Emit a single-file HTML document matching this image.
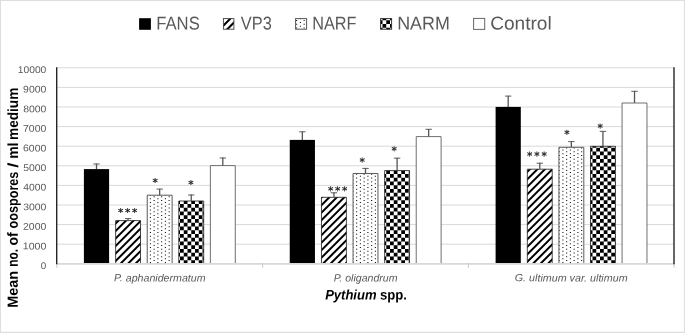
<!DOCTYPE html>
<html><head><meta charset="utf-8"><title>Chart</title><style>html,body{margin:0;padding:0;background:#fff}</style></head><body>
<svg width="685" height="333" viewBox="0 0 685 333" text-rendering="geometricPrecision" style="display:block;font-family:'Liberation Sans',sans-serif">
<rect x="0" y="0" width="685" height="333" fill="#fff"/>
<path d="M0,0H685V333H0Z M1,1V331.7H683.9V1Z" fill="#dedede" fill-rule="evenodd"/>
<line x1="56.7" x2="674.0" y1="244.20" y2="244.20" stroke="#d9d9d9" stroke-width="1"/>
<line x1="56.7" x2="674.0" y1="224.60" y2="224.60" stroke="#d9d9d9" stroke-width="1"/>
<line x1="56.7" x2="674.0" y1="205.00" y2="205.00" stroke="#d9d9d9" stroke-width="1"/>
<line x1="56.7" x2="674.0" y1="185.40" y2="185.40" stroke="#d9d9d9" stroke-width="1"/>
<line x1="56.7" x2="674.0" y1="165.80" y2="165.80" stroke="#d9d9d9" stroke-width="1"/>
<line x1="56.7" x2="674.0" y1="146.20" y2="146.20" stroke="#d9d9d9" stroke-width="1"/>
<line x1="56.7" x2="674.0" y1="126.60" y2="126.60" stroke="#d9d9d9" stroke-width="1"/>
<line x1="56.7" x2="674.0" y1="107.00" y2="107.00" stroke="#d9d9d9" stroke-width="1"/>
<line x1="56.7" x2="674.0" y1="87.40" y2="87.40" stroke="#d9d9d9" stroke-width="1"/>
<line x1="56.7" x2="674.0" y1="67.80" y2="67.80" stroke="#d9d9d9" stroke-width="1"/>
<rect x="83.90" y="169.10" width="25.20" height="94.70" fill="#000"/>
<path d="M96.50,169.10 V163.60" stroke="#555" stroke-width="1.3" fill="none"/><path d="M93.30,164.00 H99.70" stroke="#555" stroke-width="0.95" fill="none"/>
<rect x="115.63" y="220.60" width="24.90" height="43.20" fill="#fff"/>
<clipPath id="c1"><rect x="115.63" y="220.60" width="24.90" height="43.20"/></clipPath>
<path clip-path="url(#c1)" d="M113.63,210.52L142.53,181.62M113.63,218.02L142.53,189.12M113.63,225.52L142.53,196.62M113.63,233.02L142.53,204.12M113.63,240.52L142.53,211.62M113.63,248.02L142.53,219.12M113.63,255.52L142.53,226.62M113.63,263.02L142.53,234.12M113.63,270.52L142.53,241.62M113.63,278.02L142.53,249.12M113.63,285.52L142.53,256.62M113.63,293.02L142.53,264.12M113.63,300.52L142.53,271.62" stroke="#000" stroke-width="2.0" fill="none"/>
<path d="M115.63,263.80V220.60H140.53V263.80" fill="none" stroke="#1a1a1a" stroke-width="0.8" stroke-linejoin="miter"/>
<path d="M128.08,220.60 V218.20" stroke="#555" stroke-width="1.3" fill="none"/><path d="M124.88,218.60 H131.28" stroke="#555" stroke-width="0.95" fill="none"/>
<rect x="147.21" y="195.20" width="24.90" height="68.60" fill="#fff"/>
<clipPath id="c2"><rect x="147.21" y="195.20" width="24.90" height="68.60"/></clipPath>
<path clip-path="url(#c2)" d="M146.10,196.27h1.1v1.1h-1.1zM146.10,200.02h1.1v1.1h-1.1zM146.10,203.77h1.1v1.1h-1.1zM146.10,207.52h1.1v1.1h-1.1zM146.10,211.27h1.1v1.1h-1.1zM146.10,215.02h1.1v1.1h-1.1zM146.10,218.77h1.1v1.1h-1.1zM146.10,222.52h1.1v1.1h-1.1zM146.10,226.27h1.1v1.1h-1.1zM146.10,230.02h1.1v1.1h-1.1zM146.10,233.77h1.1v1.1h-1.1zM146.10,237.52h1.1v1.1h-1.1zM146.10,241.27h1.1v1.1h-1.1zM146.10,245.02h1.1v1.1h-1.1zM146.10,248.77h1.1v1.1h-1.1zM146.10,252.52h1.1v1.1h-1.1zM146.10,256.27h1.1v1.1h-1.1zM146.10,260.02h1.1v1.1h-1.1zM146.10,263.77h1.1v1.1h-1.1zM149.85,194.40h1.1v1.1h-1.1zM149.85,198.15h1.1v1.1h-1.1zM149.85,201.90h1.1v1.1h-1.1zM149.85,205.65h1.1v1.1h-1.1zM149.85,209.40h1.1v1.1h-1.1zM149.85,213.15h1.1v1.1h-1.1zM149.85,216.90h1.1v1.1h-1.1zM149.85,220.65h1.1v1.1h-1.1zM149.85,224.40h1.1v1.1h-1.1zM149.85,228.15h1.1v1.1h-1.1zM149.85,231.90h1.1v1.1h-1.1zM149.85,235.65h1.1v1.1h-1.1zM149.85,239.40h1.1v1.1h-1.1zM149.85,243.15h1.1v1.1h-1.1zM149.85,246.90h1.1v1.1h-1.1zM149.85,250.65h1.1v1.1h-1.1zM149.85,254.40h1.1v1.1h-1.1zM149.85,258.15h1.1v1.1h-1.1zM149.85,261.90h1.1v1.1h-1.1zM153.60,196.27h1.1v1.1h-1.1zM153.60,200.02h1.1v1.1h-1.1zM153.60,203.77h1.1v1.1h-1.1zM153.60,207.52h1.1v1.1h-1.1zM153.60,211.27h1.1v1.1h-1.1zM153.60,215.02h1.1v1.1h-1.1zM153.60,218.77h1.1v1.1h-1.1zM153.60,222.52h1.1v1.1h-1.1zM153.60,226.27h1.1v1.1h-1.1zM153.60,230.02h1.1v1.1h-1.1zM153.60,233.77h1.1v1.1h-1.1zM153.60,237.52h1.1v1.1h-1.1zM153.60,241.27h1.1v1.1h-1.1zM153.60,245.02h1.1v1.1h-1.1zM153.60,248.77h1.1v1.1h-1.1zM153.60,252.52h1.1v1.1h-1.1zM153.60,256.27h1.1v1.1h-1.1zM153.60,260.02h1.1v1.1h-1.1zM153.60,263.77h1.1v1.1h-1.1zM157.35,194.40h1.1v1.1h-1.1zM157.35,198.15h1.1v1.1h-1.1zM157.35,201.90h1.1v1.1h-1.1zM157.35,205.65h1.1v1.1h-1.1zM157.35,209.40h1.1v1.1h-1.1zM157.35,213.15h1.1v1.1h-1.1zM157.35,216.90h1.1v1.1h-1.1zM157.35,220.65h1.1v1.1h-1.1zM157.35,224.40h1.1v1.1h-1.1zM157.35,228.15h1.1v1.1h-1.1zM157.35,231.90h1.1v1.1h-1.1zM157.35,235.65h1.1v1.1h-1.1zM157.35,239.40h1.1v1.1h-1.1zM157.35,243.15h1.1v1.1h-1.1zM157.35,246.90h1.1v1.1h-1.1zM157.35,250.65h1.1v1.1h-1.1zM157.35,254.40h1.1v1.1h-1.1zM157.35,258.15h1.1v1.1h-1.1zM157.35,261.90h1.1v1.1h-1.1zM161.10,196.27h1.1v1.1h-1.1zM161.10,200.02h1.1v1.1h-1.1zM161.10,203.77h1.1v1.1h-1.1zM161.10,207.52h1.1v1.1h-1.1zM161.10,211.27h1.1v1.1h-1.1zM161.10,215.02h1.1v1.1h-1.1zM161.10,218.77h1.1v1.1h-1.1zM161.10,222.52h1.1v1.1h-1.1zM161.10,226.27h1.1v1.1h-1.1zM161.10,230.02h1.1v1.1h-1.1zM161.10,233.77h1.1v1.1h-1.1zM161.10,237.52h1.1v1.1h-1.1zM161.10,241.27h1.1v1.1h-1.1zM161.10,245.02h1.1v1.1h-1.1zM161.10,248.77h1.1v1.1h-1.1zM161.10,252.52h1.1v1.1h-1.1zM161.10,256.27h1.1v1.1h-1.1zM161.10,260.02h1.1v1.1h-1.1zM161.10,263.77h1.1v1.1h-1.1zM164.85,194.40h1.1v1.1h-1.1zM164.85,198.15h1.1v1.1h-1.1zM164.85,201.90h1.1v1.1h-1.1zM164.85,205.65h1.1v1.1h-1.1zM164.85,209.40h1.1v1.1h-1.1zM164.85,213.15h1.1v1.1h-1.1zM164.85,216.90h1.1v1.1h-1.1zM164.85,220.65h1.1v1.1h-1.1zM164.85,224.40h1.1v1.1h-1.1zM164.85,228.15h1.1v1.1h-1.1zM164.85,231.90h1.1v1.1h-1.1zM164.85,235.65h1.1v1.1h-1.1zM164.85,239.40h1.1v1.1h-1.1zM164.85,243.15h1.1v1.1h-1.1zM164.85,246.90h1.1v1.1h-1.1zM164.85,250.65h1.1v1.1h-1.1zM164.85,254.40h1.1v1.1h-1.1zM164.85,258.15h1.1v1.1h-1.1zM164.85,261.90h1.1v1.1h-1.1zM168.60,196.27h1.1v1.1h-1.1zM168.60,200.02h1.1v1.1h-1.1zM168.60,203.77h1.1v1.1h-1.1zM168.60,207.52h1.1v1.1h-1.1zM168.60,211.27h1.1v1.1h-1.1zM168.60,215.02h1.1v1.1h-1.1zM168.60,218.77h1.1v1.1h-1.1zM168.60,222.52h1.1v1.1h-1.1zM168.60,226.27h1.1v1.1h-1.1zM168.60,230.02h1.1v1.1h-1.1zM168.60,233.77h1.1v1.1h-1.1zM168.60,237.52h1.1v1.1h-1.1zM168.60,241.27h1.1v1.1h-1.1zM168.60,245.02h1.1v1.1h-1.1zM168.60,248.77h1.1v1.1h-1.1zM168.60,252.52h1.1v1.1h-1.1zM168.60,256.27h1.1v1.1h-1.1zM168.60,260.02h1.1v1.1h-1.1zM168.60,263.77h1.1v1.1h-1.1zM172.35,194.40h1.1v1.1h-1.1zM172.35,198.15h1.1v1.1h-1.1zM172.35,201.90h1.1v1.1h-1.1zM172.35,205.65h1.1v1.1h-1.1zM172.35,209.40h1.1v1.1h-1.1zM172.35,213.15h1.1v1.1h-1.1zM172.35,216.90h1.1v1.1h-1.1zM172.35,220.65h1.1v1.1h-1.1zM172.35,224.40h1.1v1.1h-1.1zM172.35,228.15h1.1v1.1h-1.1zM172.35,231.90h1.1v1.1h-1.1zM172.35,235.65h1.1v1.1h-1.1zM172.35,239.40h1.1v1.1h-1.1zM172.35,243.15h1.1v1.1h-1.1zM172.35,246.90h1.1v1.1h-1.1zM172.35,250.65h1.1v1.1h-1.1zM172.35,254.40h1.1v1.1h-1.1zM172.35,258.15h1.1v1.1h-1.1zM172.35,261.90h1.1v1.1h-1.1z" fill="#111"/>
<path d="M147.21,263.80V195.20H172.11V263.80" fill="none" stroke="#4a4a4a" stroke-width="0.9" stroke-linejoin="miter"/>
<path d="M159.66,195.20 V188.70" stroke="#555" stroke-width="1.3" fill="none"/><path d="M156.46,189.10 H162.86" stroke="#555" stroke-width="0.95" fill="none"/>
<rect x="178.79" y="201.00" width="24.90" height="62.80" fill="#fff"/>
<clipPath id="c3"><rect x="178.79" y="201.00" width="24.90" height="62.80"/></clipPath>
<path clip-path="url(#c3)" d="M172.50,196.40h3.75v3.75h-3.75zM172.50,203.90h3.75v3.75h-3.75zM172.50,211.40h3.75v3.75h-3.75zM172.50,218.90h3.75v3.75h-3.75zM172.50,226.40h3.75v3.75h-3.75zM172.50,233.90h3.75v3.75h-3.75zM172.50,241.40h3.75v3.75h-3.75zM172.50,248.90h3.75v3.75h-3.75zM172.50,256.40h3.75v3.75h-3.75zM172.50,263.90h3.75v3.75h-3.75zM176.25,200.15h3.75v3.75h-3.75zM176.25,207.65h3.75v3.75h-3.75zM176.25,215.15h3.75v3.75h-3.75zM176.25,222.65h3.75v3.75h-3.75zM176.25,230.15h3.75v3.75h-3.75zM176.25,237.65h3.75v3.75h-3.75zM176.25,245.15h3.75v3.75h-3.75zM176.25,252.65h3.75v3.75h-3.75zM176.25,260.15h3.75v3.75h-3.75zM176.25,267.65h3.75v3.75h-3.75zM180.00,196.40h3.75v3.75h-3.75zM180.00,203.90h3.75v3.75h-3.75zM180.00,211.40h3.75v3.75h-3.75zM180.00,218.90h3.75v3.75h-3.75zM180.00,226.40h3.75v3.75h-3.75zM180.00,233.90h3.75v3.75h-3.75zM180.00,241.40h3.75v3.75h-3.75zM180.00,248.90h3.75v3.75h-3.75zM180.00,256.40h3.75v3.75h-3.75zM180.00,263.90h3.75v3.75h-3.75zM183.75,200.15h3.75v3.75h-3.75zM183.75,207.65h3.75v3.75h-3.75zM183.75,215.15h3.75v3.75h-3.75zM183.75,222.65h3.75v3.75h-3.75zM183.75,230.15h3.75v3.75h-3.75zM183.75,237.65h3.75v3.75h-3.75zM183.75,245.15h3.75v3.75h-3.75zM183.75,252.65h3.75v3.75h-3.75zM183.75,260.15h3.75v3.75h-3.75zM183.75,267.65h3.75v3.75h-3.75zM187.50,196.40h3.75v3.75h-3.75zM187.50,203.90h3.75v3.75h-3.75zM187.50,211.40h3.75v3.75h-3.75zM187.50,218.90h3.75v3.75h-3.75zM187.50,226.40h3.75v3.75h-3.75zM187.50,233.90h3.75v3.75h-3.75zM187.50,241.40h3.75v3.75h-3.75zM187.50,248.90h3.75v3.75h-3.75zM187.50,256.40h3.75v3.75h-3.75zM187.50,263.90h3.75v3.75h-3.75zM191.25,200.15h3.75v3.75h-3.75zM191.25,207.65h3.75v3.75h-3.75zM191.25,215.15h3.75v3.75h-3.75zM191.25,222.65h3.75v3.75h-3.75zM191.25,230.15h3.75v3.75h-3.75zM191.25,237.65h3.75v3.75h-3.75zM191.25,245.15h3.75v3.75h-3.75zM191.25,252.65h3.75v3.75h-3.75zM191.25,260.15h3.75v3.75h-3.75zM191.25,267.65h3.75v3.75h-3.75zM195.00,196.40h3.75v3.75h-3.75zM195.00,203.90h3.75v3.75h-3.75zM195.00,211.40h3.75v3.75h-3.75zM195.00,218.90h3.75v3.75h-3.75zM195.00,226.40h3.75v3.75h-3.75zM195.00,233.90h3.75v3.75h-3.75zM195.00,241.40h3.75v3.75h-3.75zM195.00,248.90h3.75v3.75h-3.75zM195.00,256.40h3.75v3.75h-3.75zM195.00,263.90h3.75v3.75h-3.75zM198.75,200.15h3.75v3.75h-3.75zM198.75,207.65h3.75v3.75h-3.75zM198.75,215.15h3.75v3.75h-3.75zM198.75,222.65h3.75v3.75h-3.75zM198.75,230.15h3.75v3.75h-3.75zM198.75,237.65h3.75v3.75h-3.75zM198.75,245.15h3.75v3.75h-3.75zM198.75,252.65h3.75v3.75h-3.75zM198.75,260.15h3.75v3.75h-3.75zM198.75,267.65h3.75v3.75h-3.75zM202.50,196.40h3.75v3.75h-3.75zM202.50,203.90h3.75v3.75h-3.75zM202.50,211.40h3.75v3.75h-3.75zM202.50,218.90h3.75v3.75h-3.75zM202.50,226.40h3.75v3.75h-3.75zM202.50,233.90h3.75v3.75h-3.75zM202.50,241.40h3.75v3.75h-3.75zM202.50,248.90h3.75v3.75h-3.75zM202.50,256.40h3.75v3.75h-3.75zM202.50,263.90h3.75v3.75h-3.75zM206.25,200.15h3.75v3.75h-3.75zM206.25,207.65h3.75v3.75h-3.75zM206.25,215.15h3.75v3.75h-3.75zM206.25,222.65h3.75v3.75h-3.75zM206.25,230.15h3.75v3.75h-3.75zM206.25,237.65h3.75v3.75h-3.75zM206.25,245.15h3.75v3.75h-3.75zM206.25,252.65h3.75v3.75h-3.75zM206.25,260.15h3.75v3.75h-3.75zM206.25,267.65h3.75v3.75h-3.75zM210.00,196.40h3.75v3.75h-3.75zM210.00,203.90h3.75v3.75h-3.75zM210.00,211.40h3.75v3.75h-3.75zM210.00,218.90h3.75v3.75h-3.75zM210.00,226.40h3.75v3.75h-3.75zM210.00,233.90h3.75v3.75h-3.75zM210.00,241.40h3.75v3.75h-3.75zM210.00,248.90h3.75v3.75h-3.75zM210.00,256.40h3.75v3.75h-3.75zM210.00,263.90h3.75v3.75h-3.75z" fill="#000"/>
<path d="M178.79,263.80V201.00H203.69V263.80" fill="none" stroke="#1a1a1a" stroke-width="0.8" stroke-linejoin="miter"/>
<path d="M191.24,201.00 V194.60" stroke="#555" stroke-width="1.3" fill="none"/><path d="M188.04,195.00 H194.44" stroke="#555" stroke-width="0.95" fill="none"/>
<rect x="210.37" y="165.60" width="24.90" height="98.20" fill="#fff"/>
<path d="M210.37,263.80V165.60H235.27V263.80" fill="none" stroke="#555" stroke-width="0.85" stroke-linejoin="miter"/>
<path d="M222.82,165.60 V157.60" stroke="#555" stroke-width="1.3" fill="none"/><path d="M219.62,158.00 H226.02" stroke="#555" stroke-width="0.95" fill="none"/>
<rect x="289.75" y="139.90" width="25.20" height="123.90" fill="#000"/>
<path d="M302.35,139.90 V131.40" stroke="#555" stroke-width="1.3" fill="none"/><path d="M299.15,131.80 H305.55" stroke="#555" stroke-width="0.95" fill="none"/>
<rect x="321.48" y="197.30" width="24.90" height="66.50" fill="#fff"/>
<clipPath id="c4"><rect x="321.48" y="197.30" width="24.90" height="66.50"/></clipPath>
<path clip-path="url(#c4)" d="M319.48,184.67L348.38,155.77M319.48,192.17L348.38,163.27M319.48,199.67L348.38,170.77M319.48,207.17L348.38,178.27M319.48,214.67L348.38,185.77M319.48,222.17L348.38,193.27M319.48,229.67L348.38,200.77M319.48,237.17L348.38,208.27M319.48,244.67L348.38,215.77M319.48,252.17L348.38,223.27M319.48,259.67L348.38,230.77M319.48,267.17L348.38,238.27M319.48,274.67L348.38,245.77M319.48,282.17L348.38,253.27M319.48,289.67L348.38,260.77M319.48,297.17L348.38,268.27M319.48,304.67L348.38,275.77" stroke="#000" stroke-width="2.0" fill="none"/>
<path d="M321.48,263.80V197.30H346.38V263.80" fill="none" stroke="#1a1a1a" stroke-width="0.8" stroke-linejoin="miter"/>
<path d="M333.93,197.30 V192.40" stroke="#555" stroke-width="1.3" fill="none"/><path d="M330.73,192.80 H337.13" stroke="#555" stroke-width="0.95" fill="none"/>
<rect x="353.06" y="173.50" width="24.90" height="90.30" fill="#fff"/>
<clipPath id="c5"><rect x="353.06" y="173.50" width="24.90" height="90.30"/></clipPath>
<path clip-path="url(#c5)" d="M352.35,175.65h1.1v1.1h-1.1zM352.35,179.40h1.1v1.1h-1.1zM352.35,183.15h1.1v1.1h-1.1zM352.35,186.90h1.1v1.1h-1.1zM352.35,190.65h1.1v1.1h-1.1zM352.35,194.40h1.1v1.1h-1.1zM352.35,198.15h1.1v1.1h-1.1zM352.35,201.90h1.1v1.1h-1.1zM352.35,205.65h1.1v1.1h-1.1zM352.35,209.40h1.1v1.1h-1.1zM352.35,213.15h1.1v1.1h-1.1zM352.35,216.90h1.1v1.1h-1.1zM352.35,220.65h1.1v1.1h-1.1zM352.35,224.40h1.1v1.1h-1.1zM352.35,228.15h1.1v1.1h-1.1zM352.35,231.90h1.1v1.1h-1.1zM352.35,235.65h1.1v1.1h-1.1zM352.35,239.40h1.1v1.1h-1.1zM352.35,243.15h1.1v1.1h-1.1zM352.35,246.90h1.1v1.1h-1.1zM352.35,250.65h1.1v1.1h-1.1zM352.35,254.40h1.1v1.1h-1.1zM352.35,258.15h1.1v1.1h-1.1zM352.35,261.90h1.1v1.1h-1.1zM356.10,173.77h1.1v1.1h-1.1zM356.10,177.52h1.1v1.1h-1.1zM356.10,181.27h1.1v1.1h-1.1zM356.10,185.02h1.1v1.1h-1.1zM356.10,188.77h1.1v1.1h-1.1zM356.10,192.52h1.1v1.1h-1.1zM356.10,196.27h1.1v1.1h-1.1zM356.10,200.02h1.1v1.1h-1.1zM356.10,203.77h1.1v1.1h-1.1zM356.10,207.52h1.1v1.1h-1.1zM356.10,211.27h1.1v1.1h-1.1zM356.10,215.02h1.1v1.1h-1.1zM356.10,218.77h1.1v1.1h-1.1zM356.10,222.52h1.1v1.1h-1.1zM356.10,226.27h1.1v1.1h-1.1zM356.10,230.02h1.1v1.1h-1.1zM356.10,233.77h1.1v1.1h-1.1zM356.10,237.52h1.1v1.1h-1.1zM356.10,241.27h1.1v1.1h-1.1zM356.10,245.02h1.1v1.1h-1.1zM356.10,248.77h1.1v1.1h-1.1zM356.10,252.52h1.1v1.1h-1.1zM356.10,256.27h1.1v1.1h-1.1zM356.10,260.02h1.1v1.1h-1.1zM356.10,263.77h1.1v1.1h-1.1zM359.85,175.65h1.1v1.1h-1.1zM359.85,179.40h1.1v1.1h-1.1zM359.85,183.15h1.1v1.1h-1.1zM359.85,186.90h1.1v1.1h-1.1zM359.85,190.65h1.1v1.1h-1.1zM359.85,194.40h1.1v1.1h-1.1zM359.85,198.15h1.1v1.1h-1.1zM359.85,201.90h1.1v1.1h-1.1zM359.85,205.65h1.1v1.1h-1.1zM359.85,209.40h1.1v1.1h-1.1zM359.85,213.15h1.1v1.1h-1.1zM359.85,216.90h1.1v1.1h-1.1zM359.85,220.65h1.1v1.1h-1.1zM359.85,224.40h1.1v1.1h-1.1zM359.85,228.15h1.1v1.1h-1.1zM359.85,231.90h1.1v1.1h-1.1zM359.85,235.65h1.1v1.1h-1.1zM359.85,239.40h1.1v1.1h-1.1zM359.85,243.15h1.1v1.1h-1.1zM359.85,246.90h1.1v1.1h-1.1zM359.85,250.65h1.1v1.1h-1.1zM359.85,254.40h1.1v1.1h-1.1zM359.85,258.15h1.1v1.1h-1.1zM359.85,261.90h1.1v1.1h-1.1zM363.60,173.77h1.1v1.1h-1.1zM363.60,177.52h1.1v1.1h-1.1zM363.60,181.27h1.1v1.1h-1.1zM363.60,185.02h1.1v1.1h-1.1zM363.60,188.77h1.1v1.1h-1.1zM363.60,192.52h1.1v1.1h-1.1zM363.60,196.27h1.1v1.1h-1.1zM363.60,200.02h1.1v1.1h-1.1zM363.60,203.77h1.1v1.1h-1.1zM363.60,207.52h1.1v1.1h-1.1zM363.60,211.27h1.1v1.1h-1.1zM363.60,215.02h1.1v1.1h-1.1zM363.60,218.77h1.1v1.1h-1.1zM363.60,222.52h1.1v1.1h-1.1zM363.60,226.27h1.1v1.1h-1.1zM363.60,230.02h1.1v1.1h-1.1zM363.60,233.77h1.1v1.1h-1.1zM363.60,237.52h1.1v1.1h-1.1zM363.60,241.27h1.1v1.1h-1.1zM363.60,245.02h1.1v1.1h-1.1zM363.60,248.77h1.1v1.1h-1.1zM363.60,252.52h1.1v1.1h-1.1zM363.60,256.27h1.1v1.1h-1.1zM363.60,260.02h1.1v1.1h-1.1zM363.60,263.77h1.1v1.1h-1.1zM367.35,175.65h1.1v1.1h-1.1zM367.35,179.40h1.1v1.1h-1.1zM367.35,183.15h1.1v1.1h-1.1zM367.35,186.90h1.1v1.1h-1.1zM367.35,190.65h1.1v1.1h-1.1zM367.35,194.40h1.1v1.1h-1.1zM367.35,198.15h1.1v1.1h-1.1zM367.35,201.90h1.1v1.1h-1.1zM367.35,205.65h1.1v1.1h-1.1zM367.35,209.40h1.1v1.1h-1.1zM367.35,213.15h1.1v1.1h-1.1zM367.35,216.90h1.1v1.1h-1.1zM367.35,220.65h1.1v1.1h-1.1zM367.35,224.40h1.1v1.1h-1.1zM367.35,228.15h1.1v1.1h-1.1zM367.35,231.90h1.1v1.1h-1.1zM367.35,235.65h1.1v1.1h-1.1zM367.35,239.40h1.1v1.1h-1.1zM367.35,243.15h1.1v1.1h-1.1zM367.35,246.90h1.1v1.1h-1.1zM367.35,250.65h1.1v1.1h-1.1zM367.35,254.40h1.1v1.1h-1.1zM367.35,258.15h1.1v1.1h-1.1zM367.35,261.90h1.1v1.1h-1.1zM371.10,173.77h1.1v1.1h-1.1zM371.10,177.52h1.1v1.1h-1.1zM371.10,181.27h1.1v1.1h-1.1zM371.10,185.02h1.1v1.1h-1.1zM371.10,188.77h1.1v1.1h-1.1zM371.10,192.52h1.1v1.1h-1.1zM371.10,196.27h1.1v1.1h-1.1zM371.10,200.02h1.1v1.1h-1.1zM371.10,203.77h1.1v1.1h-1.1zM371.10,207.52h1.1v1.1h-1.1zM371.10,211.27h1.1v1.1h-1.1zM371.10,215.02h1.1v1.1h-1.1zM371.10,218.77h1.1v1.1h-1.1zM371.10,222.52h1.1v1.1h-1.1zM371.10,226.27h1.1v1.1h-1.1zM371.10,230.02h1.1v1.1h-1.1zM371.10,233.77h1.1v1.1h-1.1zM371.10,237.52h1.1v1.1h-1.1zM371.10,241.27h1.1v1.1h-1.1zM371.10,245.02h1.1v1.1h-1.1zM371.10,248.77h1.1v1.1h-1.1zM371.10,252.52h1.1v1.1h-1.1zM371.10,256.27h1.1v1.1h-1.1zM371.10,260.02h1.1v1.1h-1.1zM371.10,263.77h1.1v1.1h-1.1zM374.85,175.65h1.1v1.1h-1.1zM374.85,179.40h1.1v1.1h-1.1zM374.85,183.15h1.1v1.1h-1.1zM374.85,186.90h1.1v1.1h-1.1zM374.85,190.65h1.1v1.1h-1.1zM374.85,194.40h1.1v1.1h-1.1zM374.85,198.15h1.1v1.1h-1.1zM374.85,201.90h1.1v1.1h-1.1zM374.85,205.65h1.1v1.1h-1.1zM374.85,209.40h1.1v1.1h-1.1zM374.85,213.15h1.1v1.1h-1.1zM374.85,216.90h1.1v1.1h-1.1zM374.85,220.65h1.1v1.1h-1.1zM374.85,224.40h1.1v1.1h-1.1zM374.85,228.15h1.1v1.1h-1.1zM374.85,231.90h1.1v1.1h-1.1zM374.85,235.65h1.1v1.1h-1.1zM374.85,239.40h1.1v1.1h-1.1zM374.85,243.15h1.1v1.1h-1.1zM374.85,246.90h1.1v1.1h-1.1zM374.85,250.65h1.1v1.1h-1.1zM374.85,254.40h1.1v1.1h-1.1zM374.85,258.15h1.1v1.1h-1.1zM374.85,261.90h1.1v1.1h-1.1z" fill="#111"/>
<path d="M353.06,263.80V173.50H377.96V263.80" fill="none" stroke="#4a4a4a" stroke-width="0.9" stroke-linejoin="miter"/>
<path d="M365.51,173.50 V168.00" stroke="#555" stroke-width="1.3" fill="none"/><path d="M362.31,168.40 H368.71" stroke="#555" stroke-width="0.95" fill="none"/>
<rect x="384.64" y="170.60" width="24.90" height="93.20" fill="#fff"/>
<clipPath id="c6"><rect x="384.64" y="170.60" width="24.90" height="93.20"/></clipPath>
<path clip-path="url(#c6)" d="M378.75,170.15h3.75v3.75h-3.75zM378.75,177.65h3.75v3.75h-3.75zM378.75,185.15h3.75v3.75h-3.75zM378.75,192.65h3.75v3.75h-3.75zM378.75,200.15h3.75v3.75h-3.75zM378.75,207.65h3.75v3.75h-3.75zM378.75,215.15h3.75v3.75h-3.75zM378.75,222.65h3.75v3.75h-3.75zM378.75,230.15h3.75v3.75h-3.75zM378.75,237.65h3.75v3.75h-3.75zM378.75,245.15h3.75v3.75h-3.75zM378.75,252.65h3.75v3.75h-3.75zM378.75,260.15h3.75v3.75h-3.75zM378.75,267.65h3.75v3.75h-3.75zM382.50,166.40h3.75v3.75h-3.75zM382.50,173.90h3.75v3.75h-3.75zM382.50,181.40h3.75v3.75h-3.75zM382.50,188.90h3.75v3.75h-3.75zM382.50,196.40h3.75v3.75h-3.75zM382.50,203.90h3.75v3.75h-3.75zM382.50,211.40h3.75v3.75h-3.75zM382.50,218.90h3.75v3.75h-3.75zM382.50,226.40h3.75v3.75h-3.75zM382.50,233.90h3.75v3.75h-3.75zM382.50,241.40h3.75v3.75h-3.75zM382.50,248.90h3.75v3.75h-3.75zM382.50,256.40h3.75v3.75h-3.75zM382.50,263.90h3.75v3.75h-3.75zM386.25,170.15h3.75v3.75h-3.75zM386.25,177.65h3.75v3.75h-3.75zM386.25,185.15h3.75v3.75h-3.75zM386.25,192.65h3.75v3.75h-3.75zM386.25,200.15h3.75v3.75h-3.75zM386.25,207.65h3.75v3.75h-3.75zM386.25,215.15h3.75v3.75h-3.75zM386.25,222.65h3.75v3.75h-3.75zM386.25,230.15h3.75v3.75h-3.75zM386.25,237.65h3.75v3.75h-3.75zM386.25,245.15h3.75v3.75h-3.75zM386.25,252.65h3.75v3.75h-3.75zM386.25,260.15h3.75v3.75h-3.75zM386.25,267.65h3.75v3.75h-3.75zM390.00,166.40h3.75v3.75h-3.75zM390.00,173.90h3.75v3.75h-3.75zM390.00,181.40h3.75v3.75h-3.75zM390.00,188.90h3.75v3.75h-3.75zM390.00,196.40h3.75v3.75h-3.75zM390.00,203.90h3.75v3.75h-3.75zM390.00,211.40h3.75v3.75h-3.75zM390.00,218.90h3.75v3.75h-3.75zM390.00,226.40h3.75v3.75h-3.75zM390.00,233.90h3.75v3.75h-3.75zM390.00,241.40h3.75v3.75h-3.75zM390.00,248.90h3.75v3.75h-3.75zM390.00,256.40h3.75v3.75h-3.75zM390.00,263.90h3.75v3.75h-3.75zM393.75,170.15h3.75v3.75h-3.75zM393.75,177.65h3.75v3.75h-3.75zM393.75,185.15h3.75v3.75h-3.75zM393.75,192.65h3.75v3.75h-3.75zM393.75,200.15h3.75v3.75h-3.75zM393.75,207.65h3.75v3.75h-3.75zM393.75,215.15h3.75v3.75h-3.75zM393.75,222.65h3.75v3.75h-3.75zM393.75,230.15h3.75v3.75h-3.75zM393.75,237.65h3.75v3.75h-3.75zM393.75,245.15h3.75v3.75h-3.75zM393.75,252.65h3.75v3.75h-3.75zM393.75,260.15h3.75v3.75h-3.75zM393.75,267.65h3.75v3.75h-3.75zM397.50,166.40h3.75v3.75h-3.75zM397.50,173.90h3.75v3.75h-3.75zM397.50,181.40h3.75v3.75h-3.75zM397.50,188.90h3.75v3.75h-3.75zM397.50,196.40h3.75v3.75h-3.75zM397.50,203.90h3.75v3.75h-3.75zM397.50,211.40h3.75v3.75h-3.75zM397.50,218.90h3.75v3.75h-3.75zM397.50,226.40h3.75v3.75h-3.75zM397.50,233.90h3.75v3.75h-3.75zM397.50,241.40h3.75v3.75h-3.75zM397.50,248.90h3.75v3.75h-3.75zM397.50,256.40h3.75v3.75h-3.75zM397.50,263.90h3.75v3.75h-3.75zM401.25,170.15h3.75v3.75h-3.75zM401.25,177.65h3.75v3.75h-3.75zM401.25,185.15h3.75v3.75h-3.75zM401.25,192.65h3.75v3.75h-3.75zM401.25,200.15h3.75v3.75h-3.75zM401.25,207.65h3.75v3.75h-3.75zM401.25,215.15h3.75v3.75h-3.75zM401.25,222.65h3.75v3.75h-3.75zM401.25,230.15h3.75v3.75h-3.75zM401.25,237.65h3.75v3.75h-3.75zM401.25,245.15h3.75v3.75h-3.75zM401.25,252.65h3.75v3.75h-3.75zM401.25,260.15h3.75v3.75h-3.75zM401.25,267.65h3.75v3.75h-3.75zM405.00,166.40h3.75v3.75h-3.75zM405.00,173.90h3.75v3.75h-3.75zM405.00,181.40h3.75v3.75h-3.75zM405.00,188.90h3.75v3.75h-3.75zM405.00,196.40h3.75v3.75h-3.75zM405.00,203.90h3.75v3.75h-3.75zM405.00,211.40h3.75v3.75h-3.75zM405.00,218.90h3.75v3.75h-3.75zM405.00,226.40h3.75v3.75h-3.75zM405.00,233.90h3.75v3.75h-3.75zM405.00,241.40h3.75v3.75h-3.75zM405.00,248.90h3.75v3.75h-3.75zM405.00,256.40h3.75v3.75h-3.75zM405.00,263.90h3.75v3.75h-3.75zM408.75,170.15h3.75v3.75h-3.75zM408.75,177.65h3.75v3.75h-3.75zM408.75,185.15h3.75v3.75h-3.75zM408.75,192.65h3.75v3.75h-3.75zM408.75,200.15h3.75v3.75h-3.75zM408.75,207.65h3.75v3.75h-3.75zM408.75,215.15h3.75v3.75h-3.75zM408.75,222.65h3.75v3.75h-3.75zM408.75,230.15h3.75v3.75h-3.75zM408.75,237.65h3.75v3.75h-3.75zM408.75,245.15h3.75v3.75h-3.75zM408.75,252.65h3.75v3.75h-3.75zM408.75,260.15h3.75v3.75h-3.75zM408.75,267.65h3.75v3.75h-3.75zM412.50,166.40h3.75v3.75h-3.75zM412.50,173.90h3.75v3.75h-3.75zM412.50,181.40h3.75v3.75h-3.75zM412.50,188.90h3.75v3.75h-3.75zM412.50,196.40h3.75v3.75h-3.75zM412.50,203.90h3.75v3.75h-3.75zM412.50,211.40h3.75v3.75h-3.75zM412.50,218.90h3.75v3.75h-3.75zM412.50,226.40h3.75v3.75h-3.75zM412.50,233.90h3.75v3.75h-3.75zM412.50,241.40h3.75v3.75h-3.75zM412.50,248.90h3.75v3.75h-3.75zM412.50,256.40h3.75v3.75h-3.75zM412.50,263.90h3.75v3.75h-3.75zM416.25,170.15h3.75v3.75h-3.75zM416.25,177.65h3.75v3.75h-3.75zM416.25,185.15h3.75v3.75h-3.75zM416.25,192.65h3.75v3.75h-3.75zM416.25,200.15h3.75v3.75h-3.75zM416.25,207.65h3.75v3.75h-3.75zM416.25,215.15h3.75v3.75h-3.75zM416.25,222.65h3.75v3.75h-3.75zM416.25,230.15h3.75v3.75h-3.75zM416.25,237.65h3.75v3.75h-3.75zM416.25,245.15h3.75v3.75h-3.75zM416.25,252.65h3.75v3.75h-3.75zM416.25,260.15h3.75v3.75h-3.75zM416.25,267.65h3.75v3.75h-3.75z" fill="#000"/>
<path d="M384.64,263.80V170.60H409.54V263.80" fill="none" stroke="#1a1a1a" stroke-width="0.8" stroke-linejoin="miter"/>
<path d="M397.09,170.60 V157.80" stroke="#555" stroke-width="1.3" fill="none"/><path d="M393.89,158.20 H400.29" stroke="#555" stroke-width="0.95" fill="none"/>
<rect x="416.22" y="136.60" width="24.90" height="127.20" fill="#fff"/>
<path d="M416.22,263.80V136.60H441.12V263.80" fill="none" stroke="#555" stroke-width="0.85" stroke-linejoin="miter"/>
<path d="M428.67,136.60 V128.90" stroke="#555" stroke-width="1.3" fill="none"/><path d="M425.47,129.30 H431.87" stroke="#555" stroke-width="0.95" fill="none"/>
<rect x="495.60" y="106.90" width="25.20" height="156.90" fill="#000"/>
<path d="M508.20,106.90 V95.70" stroke="#555" stroke-width="1.3" fill="none"/><path d="M505.00,96.10 H511.40" stroke="#555" stroke-width="0.95" fill="none"/>
<rect x="527.33" y="169.20" width="24.90" height="94.60" fill="#fff"/>
<clipPath id="c7"><rect x="527.33" y="169.20" width="24.90" height="94.60"/></clipPath>
<path clip-path="url(#c7)" d="M525.33,158.82L554.23,129.92M525.33,166.32L554.23,137.42M525.33,173.82L554.23,144.92M525.33,181.32L554.23,152.42M525.33,188.82L554.23,159.92M525.33,196.32L554.23,167.42M525.33,203.82L554.23,174.92M525.33,211.32L554.23,182.42M525.33,218.82L554.23,189.92M525.33,226.32L554.23,197.42M525.33,233.82L554.23,204.92M525.33,241.32L554.23,212.42M525.33,248.82L554.23,219.92M525.33,256.32L554.23,227.42M525.33,263.82L554.23,234.92M525.33,271.32L554.23,242.42M525.33,278.82L554.23,249.92M525.33,286.32L554.23,257.42M525.33,293.82L554.23,264.92M525.33,301.32L554.23,272.42" stroke="#000" stroke-width="2.0" fill="none"/>
<path d="M527.33,263.80V169.20H552.23V263.80" fill="none" stroke="#1a1a1a" stroke-width="0.8" stroke-linejoin="miter"/>
<path d="M539.78,169.20 V162.80" stroke="#555" stroke-width="1.3" fill="none"/><path d="M536.58,163.20 H542.98" stroke="#555" stroke-width="0.95" fill="none"/>
<rect x="558.91" y="147.30" width="24.90" height="116.50" fill="#fff"/>
<clipPath id="c8"><rect x="558.91" y="147.30" width="24.90" height="116.50"/></clipPath>
<path clip-path="url(#c8)" d="M558.60,147.52h1.1v1.1h-1.1zM558.60,151.27h1.1v1.1h-1.1zM558.60,155.02h1.1v1.1h-1.1zM558.60,158.77h1.1v1.1h-1.1zM558.60,162.52h1.1v1.1h-1.1zM558.60,166.27h1.1v1.1h-1.1zM558.60,170.02h1.1v1.1h-1.1zM558.60,173.77h1.1v1.1h-1.1zM558.60,177.52h1.1v1.1h-1.1zM558.60,181.27h1.1v1.1h-1.1zM558.60,185.02h1.1v1.1h-1.1zM558.60,188.77h1.1v1.1h-1.1zM558.60,192.52h1.1v1.1h-1.1zM558.60,196.27h1.1v1.1h-1.1zM558.60,200.02h1.1v1.1h-1.1zM558.60,203.77h1.1v1.1h-1.1zM558.60,207.52h1.1v1.1h-1.1zM558.60,211.27h1.1v1.1h-1.1zM558.60,215.02h1.1v1.1h-1.1zM558.60,218.77h1.1v1.1h-1.1zM558.60,222.52h1.1v1.1h-1.1zM558.60,226.27h1.1v1.1h-1.1zM558.60,230.02h1.1v1.1h-1.1zM558.60,233.77h1.1v1.1h-1.1zM558.60,237.52h1.1v1.1h-1.1zM558.60,241.27h1.1v1.1h-1.1zM558.60,245.02h1.1v1.1h-1.1zM558.60,248.77h1.1v1.1h-1.1zM558.60,252.52h1.1v1.1h-1.1zM558.60,256.27h1.1v1.1h-1.1zM558.60,260.02h1.1v1.1h-1.1zM558.60,263.77h1.1v1.1h-1.1zM562.35,149.40h1.1v1.1h-1.1zM562.35,153.15h1.1v1.1h-1.1zM562.35,156.90h1.1v1.1h-1.1zM562.35,160.65h1.1v1.1h-1.1zM562.35,164.40h1.1v1.1h-1.1zM562.35,168.15h1.1v1.1h-1.1zM562.35,171.90h1.1v1.1h-1.1zM562.35,175.65h1.1v1.1h-1.1zM562.35,179.40h1.1v1.1h-1.1zM562.35,183.15h1.1v1.1h-1.1zM562.35,186.90h1.1v1.1h-1.1zM562.35,190.65h1.1v1.1h-1.1zM562.35,194.40h1.1v1.1h-1.1zM562.35,198.15h1.1v1.1h-1.1zM562.35,201.90h1.1v1.1h-1.1zM562.35,205.65h1.1v1.1h-1.1zM562.35,209.40h1.1v1.1h-1.1zM562.35,213.15h1.1v1.1h-1.1zM562.35,216.90h1.1v1.1h-1.1zM562.35,220.65h1.1v1.1h-1.1zM562.35,224.40h1.1v1.1h-1.1zM562.35,228.15h1.1v1.1h-1.1zM562.35,231.90h1.1v1.1h-1.1zM562.35,235.65h1.1v1.1h-1.1zM562.35,239.40h1.1v1.1h-1.1zM562.35,243.15h1.1v1.1h-1.1zM562.35,246.90h1.1v1.1h-1.1zM562.35,250.65h1.1v1.1h-1.1zM562.35,254.40h1.1v1.1h-1.1zM562.35,258.15h1.1v1.1h-1.1zM562.35,261.90h1.1v1.1h-1.1zM566.10,147.52h1.1v1.1h-1.1zM566.10,151.27h1.1v1.1h-1.1zM566.10,155.02h1.1v1.1h-1.1zM566.10,158.77h1.1v1.1h-1.1zM566.10,162.52h1.1v1.1h-1.1zM566.10,166.27h1.1v1.1h-1.1zM566.10,170.02h1.1v1.1h-1.1zM566.10,173.77h1.1v1.1h-1.1zM566.10,177.52h1.1v1.1h-1.1zM566.10,181.27h1.1v1.1h-1.1zM566.10,185.02h1.1v1.1h-1.1zM566.10,188.77h1.1v1.1h-1.1zM566.10,192.52h1.1v1.1h-1.1zM566.10,196.27h1.1v1.1h-1.1zM566.10,200.02h1.1v1.1h-1.1zM566.10,203.77h1.1v1.1h-1.1zM566.10,207.52h1.1v1.1h-1.1zM566.10,211.27h1.1v1.1h-1.1zM566.10,215.02h1.1v1.1h-1.1zM566.10,218.77h1.1v1.1h-1.1zM566.10,222.52h1.1v1.1h-1.1zM566.10,226.27h1.1v1.1h-1.1zM566.10,230.02h1.1v1.1h-1.1zM566.10,233.77h1.1v1.1h-1.1zM566.10,237.52h1.1v1.1h-1.1zM566.10,241.27h1.1v1.1h-1.1zM566.10,245.02h1.1v1.1h-1.1zM566.10,248.77h1.1v1.1h-1.1zM566.10,252.52h1.1v1.1h-1.1zM566.10,256.27h1.1v1.1h-1.1zM566.10,260.02h1.1v1.1h-1.1zM566.10,263.77h1.1v1.1h-1.1zM569.85,149.40h1.1v1.1h-1.1zM569.85,153.15h1.1v1.1h-1.1zM569.85,156.90h1.1v1.1h-1.1zM569.85,160.65h1.1v1.1h-1.1zM569.85,164.40h1.1v1.1h-1.1zM569.85,168.15h1.1v1.1h-1.1zM569.85,171.90h1.1v1.1h-1.1zM569.85,175.65h1.1v1.1h-1.1zM569.85,179.40h1.1v1.1h-1.1zM569.85,183.15h1.1v1.1h-1.1zM569.85,186.90h1.1v1.1h-1.1zM569.85,190.65h1.1v1.1h-1.1zM569.85,194.40h1.1v1.1h-1.1zM569.85,198.15h1.1v1.1h-1.1zM569.85,201.90h1.1v1.1h-1.1zM569.85,205.65h1.1v1.1h-1.1zM569.85,209.40h1.1v1.1h-1.1zM569.85,213.15h1.1v1.1h-1.1zM569.85,216.90h1.1v1.1h-1.1zM569.85,220.65h1.1v1.1h-1.1zM569.85,224.40h1.1v1.1h-1.1zM569.85,228.15h1.1v1.1h-1.1zM569.85,231.90h1.1v1.1h-1.1zM569.85,235.65h1.1v1.1h-1.1zM569.85,239.40h1.1v1.1h-1.1zM569.85,243.15h1.1v1.1h-1.1zM569.85,246.90h1.1v1.1h-1.1zM569.85,250.65h1.1v1.1h-1.1zM569.85,254.40h1.1v1.1h-1.1zM569.85,258.15h1.1v1.1h-1.1zM569.85,261.90h1.1v1.1h-1.1zM573.60,147.52h1.1v1.1h-1.1zM573.60,151.27h1.1v1.1h-1.1zM573.60,155.02h1.1v1.1h-1.1zM573.60,158.77h1.1v1.1h-1.1zM573.60,162.52h1.1v1.1h-1.1zM573.60,166.27h1.1v1.1h-1.1zM573.60,170.02h1.1v1.1h-1.1zM573.60,173.77h1.1v1.1h-1.1zM573.60,177.52h1.1v1.1h-1.1zM573.60,181.27h1.1v1.1h-1.1zM573.60,185.02h1.1v1.1h-1.1zM573.60,188.77h1.1v1.1h-1.1zM573.60,192.52h1.1v1.1h-1.1zM573.60,196.27h1.1v1.1h-1.1zM573.60,200.02h1.1v1.1h-1.1zM573.60,203.77h1.1v1.1h-1.1zM573.60,207.52h1.1v1.1h-1.1zM573.60,211.27h1.1v1.1h-1.1zM573.60,215.02h1.1v1.1h-1.1zM573.60,218.77h1.1v1.1h-1.1zM573.60,222.52h1.1v1.1h-1.1zM573.60,226.27h1.1v1.1h-1.1zM573.60,230.02h1.1v1.1h-1.1zM573.60,233.77h1.1v1.1h-1.1zM573.60,237.52h1.1v1.1h-1.1zM573.60,241.27h1.1v1.1h-1.1zM573.60,245.02h1.1v1.1h-1.1zM573.60,248.77h1.1v1.1h-1.1zM573.60,252.52h1.1v1.1h-1.1zM573.60,256.27h1.1v1.1h-1.1zM573.60,260.02h1.1v1.1h-1.1zM573.60,263.77h1.1v1.1h-1.1zM577.35,149.40h1.1v1.1h-1.1zM577.35,153.15h1.1v1.1h-1.1zM577.35,156.90h1.1v1.1h-1.1zM577.35,160.65h1.1v1.1h-1.1zM577.35,164.40h1.1v1.1h-1.1zM577.35,168.15h1.1v1.1h-1.1zM577.35,171.90h1.1v1.1h-1.1zM577.35,175.65h1.1v1.1h-1.1zM577.35,179.40h1.1v1.1h-1.1zM577.35,183.15h1.1v1.1h-1.1zM577.35,186.90h1.1v1.1h-1.1zM577.35,190.65h1.1v1.1h-1.1zM577.35,194.40h1.1v1.1h-1.1zM577.35,198.15h1.1v1.1h-1.1zM577.35,201.90h1.1v1.1h-1.1zM577.35,205.65h1.1v1.1h-1.1zM577.35,209.40h1.1v1.1h-1.1zM577.35,213.15h1.1v1.1h-1.1zM577.35,216.90h1.1v1.1h-1.1zM577.35,220.65h1.1v1.1h-1.1zM577.35,224.40h1.1v1.1h-1.1zM577.35,228.15h1.1v1.1h-1.1zM577.35,231.90h1.1v1.1h-1.1zM577.35,235.65h1.1v1.1h-1.1zM577.35,239.40h1.1v1.1h-1.1zM577.35,243.15h1.1v1.1h-1.1zM577.35,246.90h1.1v1.1h-1.1zM577.35,250.65h1.1v1.1h-1.1zM577.35,254.40h1.1v1.1h-1.1zM577.35,258.15h1.1v1.1h-1.1zM577.35,261.90h1.1v1.1h-1.1zM581.10,147.52h1.1v1.1h-1.1zM581.10,151.27h1.1v1.1h-1.1zM581.10,155.02h1.1v1.1h-1.1zM581.10,158.77h1.1v1.1h-1.1zM581.10,162.52h1.1v1.1h-1.1zM581.10,166.27h1.1v1.1h-1.1zM581.10,170.02h1.1v1.1h-1.1zM581.10,173.77h1.1v1.1h-1.1zM581.10,177.52h1.1v1.1h-1.1zM581.10,181.27h1.1v1.1h-1.1zM581.10,185.02h1.1v1.1h-1.1zM581.10,188.77h1.1v1.1h-1.1zM581.10,192.52h1.1v1.1h-1.1zM581.10,196.27h1.1v1.1h-1.1zM581.10,200.02h1.1v1.1h-1.1zM581.10,203.77h1.1v1.1h-1.1zM581.10,207.52h1.1v1.1h-1.1zM581.10,211.27h1.1v1.1h-1.1zM581.10,215.02h1.1v1.1h-1.1zM581.10,218.77h1.1v1.1h-1.1zM581.10,222.52h1.1v1.1h-1.1zM581.10,226.27h1.1v1.1h-1.1zM581.10,230.02h1.1v1.1h-1.1zM581.10,233.77h1.1v1.1h-1.1zM581.10,237.52h1.1v1.1h-1.1zM581.10,241.27h1.1v1.1h-1.1zM581.10,245.02h1.1v1.1h-1.1zM581.10,248.77h1.1v1.1h-1.1zM581.10,252.52h1.1v1.1h-1.1zM581.10,256.27h1.1v1.1h-1.1zM581.10,260.02h1.1v1.1h-1.1zM581.10,263.77h1.1v1.1h-1.1z" fill="#111"/>
<path d="M558.91,263.80V147.30H583.81V263.80" fill="none" stroke="#4a4a4a" stroke-width="0.9" stroke-linejoin="miter"/>
<path d="M571.36,147.30 V141.20" stroke="#555" stroke-width="1.3" fill="none"/><path d="M568.16,141.60 H574.56" stroke="#555" stroke-width="0.95" fill="none"/>
<rect x="590.49" y="146.30" width="24.90" height="117.50" fill="#fff"/>
<clipPath id="c9"><rect x="590.49" y="146.30" width="24.90" height="117.50"/></clipPath>
<path clip-path="url(#c9)" d="M585.00,143.90h3.75v3.75h-3.75zM585.00,151.40h3.75v3.75h-3.75zM585.00,158.90h3.75v3.75h-3.75zM585.00,166.40h3.75v3.75h-3.75zM585.00,173.90h3.75v3.75h-3.75zM585.00,181.40h3.75v3.75h-3.75zM585.00,188.90h3.75v3.75h-3.75zM585.00,196.40h3.75v3.75h-3.75zM585.00,203.90h3.75v3.75h-3.75zM585.00,211.40h3.75v3.75h-3.75zM585.00,218.90h3.75v3.75h-3.75zM585.00,226.40h3.75v3.75h-3.75zM585.00,233.90h3.75v3.75h-3.75zM585.00,241.40h3.75v3.75h-3.75zM585.00,248.90h3.75v3.75h-3.75zM585.00,256.40h3.75v3.75h-3.75zM585.00,263.90h3.75v3.75h-3.75zM588.75,140.15h3.75v3.75h-3.75zM588.75,147.65h3.75v3.75h-3.75zM588.75,155.15h3.75v3.75h-3.75zM588.75,162.65h3.75v3.75h-3.75zM588.75,170.15h3.75v3.75h-3.75zM588.75,177.65h3.75v3.75h-3.75zM588.75,185.15h3.75v3.75h-3.75zM588.75,192.65h3.75v3.75h-3.75zM588.75,200.15h3.75v3.75h-3.75zM588.75,207.65h3.75v3.75h-3.75zM588.75,215.15h3.75v3.75h-3.75zM588.75,222.65h3.75v3.75h-3.75zM588.75,230.15h3.75v3.75h-3.75zM588.75,237.65h3.75v3.75h-3.75zM588.75,245.15h3.75v3.75h-3.75zM588.75,252.65h3.75v3.75h-3.75zM588.75,260.15h3.75v3.75h-3.75zM588.75,267.65h3.75v3.75h-3.75zM592.50,143.90h3.75v3.75h-3.75zM592.50,151.40h3.75v3.75h-3.75zM592.50,158.90h3.75v3.75h-3.75zM592.50,166.40h3.75v3.75h-3.75zM592.50,173.90h3.75v3.75h-3.75zM592.50,181.40h3.75v3.75h-3.75zM592.50,188.90h3.75v3.75h-3.75zM592.50,196.40h3.75v3.75h-3.75zM592.50,203.90h3.75v3.75h-3.75zM592.50,211.40h3.75v3.75h-3.75zM592.50,218.90h3.75v3.75h-3.75zM592.50,226.40h3.75v3.75h-3.75zM592.50,233.90h3.75v3.75h-3.75zM592.50,241.40h3.75v3.75h-3.75zM592.50,248.90h3.75v3.75h-3.75zM592.50,256.40h3.75v3.75h-3.75zM592.50,263.90h3.75v3.75h-3.75zM596.25,140.15h3.75v3.75h-3.75zM596.25,147.65h3.75v3.75h-3.75zM596.25,155.15h3.75v3.75h-3.75zM596.25,162.65h3.75v3.75h-3.75zM596.25,170.15h3.75v3.75h-3.75zM596.25,177.65h3.75v3.75h-3.75zM596.25,185.15h3.75v3.75h-3.75zM596.25,192.65h3.75v3.75h-3.75zM596.25,200.15h3.75v3.75h-3.75zM596.25,207.65h3.75v3.75h-3.75zM596.25,215.15h3.75v3.75h-3.75zM596.25,222.65h3.75v3.75h-3.75zM596.25,230.15h3.75v3.75h-3.75zM596.25,237.65h3.75v3.75h-3.75zM596.25,245.15h3.75v3.75h-3.75zM596.25,252.65h3.75v3.75h-3.75zM596.25,260.15h3.75v3.75h-3.75zM596.25,267.65h3.75v3.75h-3.75zM600.00,143.90h3.75v3.75h-3.75zM600.00,151.40h3.75v3.75h-3.75zM600.00,158.90h3.75v3.75h-3.75zM600.00,166.40h3.75v3.75h-3.75zM600.00,173.90h3.75v3.75h-3.75zM600.00,181.40h3.75v3.75h-3.75zM600.00,188.90h3.75v3.75h-3.75zM600.00,196.40h3.75v3.75h-3.75zM600.00,203.90h3.75v3.75h-3.75zM600.00,211.40h3.75v3.75h-3.75zM600.00,218.90h3.75v3.75h-3.75zM600.00,226.40h3.75v3.75h-3.75zM600.00,233.90h3.75v3.75h-3.75zM600.00,241.40h3.75v3.75h-3.75zM600.00,248.90h3.75v3.75h-3.75zM600.00,256.40h3.75v3.75h-3.75zM600.00,263.90h3.75v3.75h-3.75zM603.75,140.15h3.75v3.75h-3.75zM603.75,147.65h3.75v3.75h-3.75zM603.75,155.15h3.75v3.75h-3.75zM603.75,162.65h3.75v3.75h-3.75zM603.75,170.15h3.75v3.75h-3.75zM603.75,177.65h3.75v3.75h-3.75zM603.75,185.15h3.75v3.75h-3.75zM603.75,192.65h3.75v3.75h-3.75zM603.75,200.15h3.75v3.75h-3.75zM603.75,207.65h3.75v3.75h-3.75zM603.75,215.15h3.75v3.75h-3.75zM603.75,222.65h3.75v3.75h-3.75zM603.75,230.15h3.75v3.75h-3.75zM603.75,237.65h3.75v3.75h-3.75zM603.75,245.15h3.75v3.75h-3.75zM603.75,252.65h3.75v3.75h-3.75zM603.75,260.15h3.75v3.75h-3.75zM603.75,267.65h3.75v3.75h-3.75zM607.50,143.90h3.75v3.75h-3.75zM607.50,151.40h3.75v3.75h-3.75zM607.50,158.90h3.75v3.75h-3.75zM607.50,166.40h3.75v3.75h-3.75zM607.50,173.90h3.75v3.75h-3.75zM607.50,181.40h3.75v3.75h-3.75zM607.50,188.90h3.75v3.75h-3.75zM607.50,196.40h3.75v3.75h-3.75zM607.50,203.90h3.75v3.75h-3.75zM607.50,211.40h3.75v3.75h-3.75zM607.50,218.90h3.75v3.75h-3.75zM607.50,226.40h3.75v3.75h-3.75zM607.50,233.90h3.75v3.75h-3.75zM607.50,241.40h3.75v3.75h-3.75zM607.50,248.90h3.75v3.75h-3.75zM607.50,256.40h3.75v3.75h-3.75zM607.50,263.90h3.75v3.75h-3.75zM611.25,140.15h3.75v3.75h-3.75zM611.25,147.65h3.75v3.75h-3.75zM611.25,155.15h3.75v3.75h-3.75zM611.25,162.65h3.75v3.75h-3.75zM611.25,170.15h3.75v3.75h-3.75zM611.25,177.65h3.75v3.75h-3.75zM611.25,185.15h3.75v3.75h-3.75zM611.25,192.65h3.75v3.75h-3.75zM611.25,200.15h3.75v3.75h-3.75zM611.25,207.65h3.75v3.75h-3.75zM611.25,215.15h3.75v3.75h-3.75zM611.25,222.65h3.75v3.75h-3.75zM611.25,230.15h3.75v3.75h-3.75zM611.25,237.65h3.75v3.75h-3.75zM611.25,245.15h3.75v3.75h-3.75zM611.25,252.65h3.75v3.75h-3.75zM611.25,260.15h3.75v3.75h-3.75zM611.25,267.65h3.75v3.75h-3.75zM615.00,143.90h3.75v3.75h-3.75zM615.00,151.40h3.75v3.75h-3.75zM615.00,158.90h3.75v3.75h-3.75zM615.00,166.40h3.75v3.75h-3.75zM615.00,173.90h3.75v3.75h-3.75zM615.00,181.40h3.75v3.75h-3.75zM615.00,188.90h3.75v3.75h-3.75zM615.00,196.40h3.75v3.75h-3.75zM615.00,203.90h3.75v3.75h-3.75zM615.00,211.40h3.75v3.75h-3.75zM615.00,218.90h3.75v3.75h-3.75zM615.00,226.40h3.75v3.75h-3.75zM615.00,233.90h3.75v3.75h-3.75zM615.00,241.40h3.75v3.75h-3.75zM615.00,248.90h3.75v3.75h-3.75zM615.00,256.40h3.75v3.75h-3.75zM615.00,263.90h3.75v3.75h-3.75zM618.75,140.15h3.75v3.75h-3.75zM618.75,147.65h3.75v3.75h-3.75zM618.75,155.15h3.75v3.75h-3.75zM618.75,162.65h3.75v3.75h-3.75zM618.75,170.15h3.75v3.75h-3.75zM618.75,177.65h3.75v3.75h-3.75zM618.75,185.15h3.75v3.75h-3.75zM618.75,192.65h3.75v3.75h-3.75zM618.75,200.15h3.75v3.75h-3.75zM618.75,207.65h3.75v3.75h-3.75zM618.75,215.15h3.75v3.75h-3.75zM618.75,222.65h3.75v3.75h-3.75zM618.75,230.15h3.75v3.75h-3.75zM618.75,237.65h3.75v3.75h-3.75zM618.75,245.15h3.75v3.75h-3.75zM618.75,252.65h3.75v3.75h-3.75zM618.75,260.15h3.75v3.75h-3.75zM618.75,267.65h3.75v3.75h-3.75zM622.50,143.90h3.75v3.75h-3.75zM622.50,151.40h3.75v3.75h-3.75zM622.50,158.90h3.75v3.75h-3.75zM622.50,166.40h3.75v3.75h-3.75zM622.50,173.90h3.75v3.75h-3.75zM622.50,181.40h3.75v3.75h-3.75zM622.50,188.90h3.75v3.75h-3.75zM622.50,196.40h3.75v3.75h-3.75zM622.50,203.90h3.75v3.75h-3.75zM622.50,211.40h3.75v3.75h-3.75zM622.50,218.90h3.75v3.75h-3.75zM622.50,226.40h3.75v3.75h-3.75zM622.50,233.90h3.75v3.75h-3.75zM622.50,241.40h3.75v3.75h-3.75zM622.50,248.90h3.75v3.75h-3.75zM622.50,256.40h3.75v3.75h-3.75zM622.50,263.90h3.75v3.75h-3.75z" fill="#000"/>
<path d="M590.49,263.80V146.30H615.39V263.80" fill="none" stroke="#1a1a1a" stroke-width="0.8" stroke-linejoin="miter"/>
<path d="M602.94,146.30 V130.95" stroke="#555" stroke-width="1.3" fill="none"/><path d="M599.74,131.35 H606.14" stroke="#555" stroke-width="0.95" fill="none"/>
<rect x="622.07" y="103.00" width="24.90" height="160.80" fill="#fff"/>
<path d="M622.07,263.80V103.00H646.97V263.80" fill="none" stroke="#555" stroke-width="0.85" stroke-linejoin="miter"/>
<path d="M634.52,103.00 V90.90" stroke="#555" stroke-width="1.3" fill="none"/><path d="M631.32,91.30 H637.72" stroke="#555" stroke-width="0.95" fill="none"/>
<line x1="56.7" x2="674.0" y1="263.90000000000003" y2="263.90000000000003" stroke="#d9d9d9" stroke-width="1.7"/>
<line x1="56.85" x2="56.85" y1="263.2" y2="267.8" stroke="#c8c8c8" stroke-width="1"/>
<line x1="262.62" x2="262.62" y1="263.2" y2="267.8" stroke="#c8c8c8" stroke-width="1"/>
<line x1="468.38" x2="468.38" y1="263.2" y2="267.8" stroke="#c8c8c8" stroke-width="1"/>
<line x1="674.15" x2="674.15" y1="263.2" y2="267.8" stroke="#c8c8c8" stroke-width="1"/>
<line x1="56.7" x2="56.7" y1="67.30" y2="264.3" stroke="#262626" stroke-width="1.4"/>
<line x1="674.0" x2="674.0" y1="67.30" y2="264.3" stroke="#262626" stroke-width="1.4"/>
<text x="40.82" y="269.00" transform="rotate(0.1 43.5 269.00)" font-size="9.75" fill="#595959" textLength="5.47" lengthAdjust="spacingAndGlyphs">0</text>
<text x="22.79" y="249.40" transform="rotate(0.1 34.8 249.40)" font-size="9.75" fill="#595959" textLength="23.52" lengthAdjust="spacingAndGlyphs">1000</text>
<text x="23.07" y="229.80" transform="rotate(0.1 34.8 229.80)" font-size="9.75" fill="#595959" textLength="23.23" lengthAdjust="spacingAndGlyphs">2000</text>
<text x="23.20" y="210.20" transform="rotate(0.1 34.8 210.20)" font-size="9.75" fill="#595959" textLength="23.10" lengthAdjust="spacingAndGlyphs">3000</text>
<text x="23.36" y="190.60" transform="rotate(0.1 34.8 190.60)" font-size="9.75" fill="#595959" textLength="22.94" lengthAdjust="spacingAndGlyphs">4000</text>
<text x="23.18" y="171.00" transform="rotate(0.1 34.8 171.00)" font-size="9.75" fill="#595959" textLength="23.12" lengthAdjust="spacingAndGlyphs">5000</text>
<text x="23.07" y="151.40" transform="rotate(0.1 34.8 151.40)" font-size="9.75" fill="#595959" textLength="23.24" lengthAdjust="spacingAndGlyphs">6000</text>
<text x="23.06" y="131.80" transform="rotate(0.1 34.8 131.80)" font-size="9.75" fill="#595959" textLength="23.24" lengthAdjust="spacingAndGlyphs">7000</text>
<text x="23.15" y="112.20" transform="rotate(0.1 34.8 112.20)" font-size="9.75" fill="#595959" textLength="23.16" lengthAdjust="spacingAndGlyphs">8000</text>
<text x="23.11" y="92.60" transform="rotate(0.1 34.8 92.60)" font-size="9.75" fill="#595959" textLength="23.20" lengthAdjust="spacingAndGlyphs">9000</text>
<text x="17.82" y="73.00" transform="rotate(0.1 32.2 73.00)" font-size="9.75" fill="#595959" textLength="28.48" lengthAdjust="spacingAndGlyphs">10000</text>
<text transform="translate(17.5,306.9) rotate(-89.9) translate(0,0.19)" y="0" font-size="14.7" font-weight="bold" fill="#000"><tspan x="-0.97" textLength="36.96" lengthAdjust="spacingAndGlyphs">Mean</tspan> <tspan x="40.22" textLength="17.80" lengthAdjust="spacingAndGlyphs">no.</tspan> <tspan x="61.46" textLength="13.17" lengthAdjust="spacingAndGlyphs">of</tspan> <tspan x="78.51" textLength="56.71" lengthAdjust="spacingAndGlyphs">oospores</tspan> <tspan x="139.25" textLength="5.11" lengthAdjust="spacingAndGlyphs">/</tspan> <tspan x="148.08" textLength="16.31" lengthAdjust="spacingAndGlyphs">ml</tspan> <tspan x="167.00" textLength="52.14" lengthAdjust="spacingAndGlyphs">medium</tspan></text>
<text x="114.08" y="281.45" transform="rotate(0.1 159.8 281.45)" font-size="10.5" font-style="italic" fill="#595959" textLength="91.51" lengthAdjust="spacingAndGlyphs">P. aphanidermatum</text>
<text x="333.68" y="281.45" transform="rotate(0.1 365.6 281.45)" font-size="10.5" font-style="italic" fill="#595959" textLength="63.90" lengthAdjust="spacingAndGlyphs">P. oligandrum</text>
<text x="514.77" y="281.45" transform="rotate(0.1 571.2 281.45)" font-size="10.5" font-style="italic" fill="#595959" textLength="112.82" lengthAdjust="spacingAndGlyphs">G. ultimum var. ultimum</text>
<text x="325.17" y="299.45" transform="rotate(0.1 350.7 299.45)" font-size="13.95" font-weight="bold" font-style="italic" fill="#000" textLength="51.37" lengthAdjust="spacingAndGlyphs">Pythium</text>
<text x="379.94" y="299.45" transform="rotate(0.1 393.2 299.45)" font-size="13.95" font-weight="bold" fill="#000" textLength="26.96" lengthAdjust="spacingAndGlyphs">spp.</text>
<rect x="139.10" y="18.20" width="11.80" height="11.60" fill="#000"/>
<rect x="223.40" y="18.60" width="10.50" height="10.60" fill="#fff"/>
<clipPath id="c10"><rect x="223.40" y="18.60" width="10.50" height="10.60"/></clipPath>
<path clip-path="url(#c10)" d="M221.40,12.60L235.90,-1.90M221.40,20.10L235.90,5.60M221.40,27.60L235.90,13.10M221.40,35.10L235.90,20.60M221.40,42.60L235.90,28.10M221.40,50.10L235.90,35.60" stroke="#000" stroke-width="2.0" fill="none"/>
<rect x="223.40" y="18.60" width="10.50" height="10.60" fill="none" stroke="#444" stroke-width="0.9"/>
<rect x="295.60" y="18.60" width="11.00" height="10.60" fill="#fff"/>
<clipPath id="c11"><rect x="295.60" y="18.60" width="11.00" height="10.60"/></clipPath>
<path clip-path="url(#c11)" d="M296.10,20.02h1.1v1.1h-1.1zM296.10,23.77h1.1v1.1h-1.1zM296.10,27.52h1.1v1.1h-1.1zM299.85,18.15h1.1v1.1h-1.1zM299.85,21.90h1.1v1.1h-1.1zM299.85,25.65h1.1v1.1h-1.1zM299.85,29.40h1.1v1.1h-1.1zM303.60,20.02h1.1v1.1h-1.1zM303.60,23.77h1.1v1.1h-1.1zM303.60,27.52h1.1v1.1h-1.1z" fill="#111"/>
<rect x="295.60" y="18.60" width="11.00" height="10.60" fill="none" stroke="#555" stroke-width="1"/>
<rect x="380.60" y="18.60" width="11.00" height="10.60" fill="#fff"/>
<clipPath id="c12"><rect x="380.60" y="18.60" width="11.00" height="10.60"/></clipPath>
<path clip-path="url(#c12)" d="M375.00,16.40h3.75v3.75h-3.75zM375.00,23.90h3.75v3.75h-3.75zM375.00,31.40h3.75v3.75h-3.75zM378.75,12.65h3.75v3.75h-3.75zM378.75,20.15h3.75v3.75h-3.75zM378.75,27.65h3.75v3.75h-3.75zM378.75,35.15h3.75v3.75h-3.75zM382.50,16.40h3.75v3.75h-3.75zM382.50,23.90h3.75v3.75h-3.75zM382.50,31.40h3.75v3.75h-3.75zM386.25,12.65h3.75v3.75h-3.75zM386.25,20.15h3.75v3.75h-3.75zM386.25,27.65h3.75v3.75h-3.75zM386.25,35.15h3.75v3.75h-3.75zM390.00,16.40h3.75v3.75h-3.75zM390.00,23.90h3.75v3.75h-3.75zM390.00,31.40h3.75v3.75h-3.75zM393.75,12.65h3.75v3.75h-3.75zM393.75,20.15h3.75v3.75h-3.75zM393.75,27.65h3.75v3.75h-3.75zM393.75,35.15h3.75v3.75h-3.75zM397.50,16.40h3.75v3.75h-3.75zM397.50,23.90h3.75v3.75h-3.75zM397.50,31.40h3.75v3.75h-3.75z" fill="#000"/>
<rect x="380.60" y="18.60" width="11.00" height="10.60" fill="none" stroke="#333" stroke-width="1"/>
<rect x="473.60" y="18.40" width="11.10" height="11.00" fill="#fff"/>
<rect x="473.60" y="18.40" width="11.10" height="11.00" fill="none" stroke="#666" stroke-width="1"/>
<text x="156.26" y="29.50" transform="rotate(0.1 178.3 29.50)" font-size="18.5" fill="#595959" textLength="43.49" lengthAdjust="spacingAndGlyphs">FANS</text>
<text x="240.83" y="29.50" transform="rotate(0.1 255.9 29.50)" font-size="18.5" fill="#595959" textLength="30.89" lengthAdjust="spacingAndGlyphs">VP3</text>
<text x="312.17" y="29.50" transform="rotate(0.1 334.6 29.50)" font-size="18.5" fill="#595959" textLength="44.18" lengthAdjust="spacingAndGlyphs">NARF</text>
<text x="397.23" y="29.50" transform="rotate(0.1 423.5 29.50)" font-size="18.5" fill="#595959" textLength="52.63" lengthAdjust="spacingAndGlyphs">NARM</text>
<text x="490.23" y="29.50" transform="rotate(0.1 520.8 29.50)" font-size="18.5" fill="#595959" textLength="61.44" lengthAdjust="spacingAndGlyphs">Control</text>
<text x="118.10" y="215.91" font-size="10.6" font-family="'DejaVu Sans',sans-serif" fill="#1a1a1a" stroke="#1a1a1a" stroke-width="0.25" letter-spacing="1.65" transform="rotate(0.1 127.6 210.4)">***</text>
<text x="152.40" y="186.01" font-size="10.6" font-family="'DejaVu Sans',sans-serif" fill="#1a1a1a" stroke="#1a1a1a" stroke-width="0.25" transform="rotate(0.1 155.0 180.5)">*</text>
<text x="188.20" y="188.06" font-size="10.6" font-family="'DejaVu Sans',sans-serif" fill="#1a1a1a" stroke="#1a1a1a" stroke-width="0.25" transform="rotate(0.1 190.8 182.6)">*</text>
<text x="327.90" y="194.31" font-size="10.6" font-family="'DejaVu Sans',sans-serif" fill="#1a1a1a" stroke="#1a1a1a" stroke-width="0.25" letter-spacing="1.75" transform="rotate(0.1 337.5 188.8)">***</text>
<text x="359.40" y="165.41" font-size="10.6" font-family="'DejaVu Sans',sans-serif" fill="#1a1a1a" stroke="#1a1a1a" stroke-width="0.25" transform="rotate(0.1 362.0 159.9)">*</text>
<text x="391.50" y="154.36" font-size="10.6" font-family="'DejaVu Sans',sans-serif" fill="#1a1a1a" stroke="#1a1a1a" stroke-width="0.25" transform="rotate(0.1 394.1 148.8)">*</text>
<text x="527.10" y="159.51" font-size="10.6" font-family="'DejaVu Sans',sans-serif" fill="#1a1a1a" stroke="#1a1a1a" stroke-width="0.25" letter-spacing="1.85" transform="rotate(0.1 536.9 154.0)">***</text>
<text x="564.30" y="137.86" font-size="10.6" font-family="'DejaVu Sans',sans-serif" fill="#1a1a1a" stroke="#1a1a1a" stroke-width="0.25" transform="rotate(0.1 566.9 132.3)">*</text>
<text x="597.40" y="131.46" font-size="10.6" font-family="'DejaVu Sans',sans-serif" fill="#1a1a1a" stroke="#1a1a1a" stroke-width="0.25" transform="rotate(0.1 600.0 126.0)">*</text>
</svg>
</body></html>
